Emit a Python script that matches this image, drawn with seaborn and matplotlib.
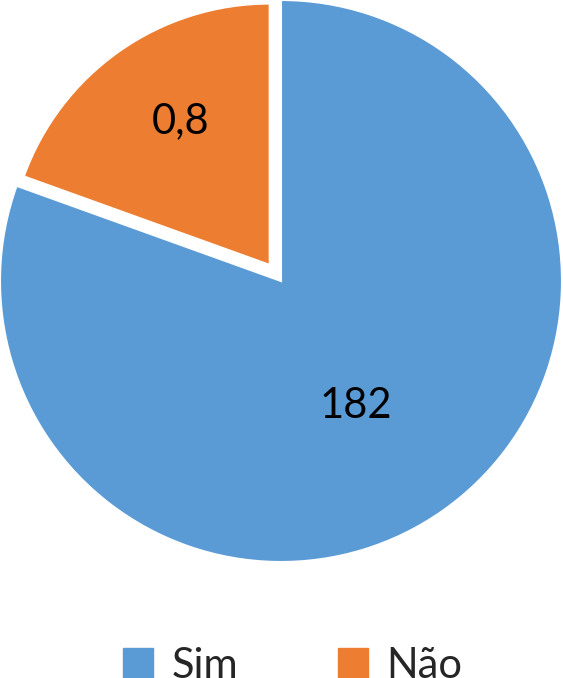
import matplotlib
matplotlib.use("Agg")
import matplotlib.pyplot as plt
import matplotlib.patches as mpatches
import seaborn as sns

# data
categories = ["Sim", "Não"]
shares = [80.5, 19.5]          # slice sizes as drawn
value_labels = ["182", "0,8"]  # numbers printed on the slices
colors = ["#5B9BD5", "#ED7D31"]

sns.set_theme(style="white")
plt.rcParams["font.family"] = ["Lato", "DejaVu Sans"]

fig = plt.figure(figsize=(5.63, 6.78), dpi=100)
ax = fig.add_axes([0.0, 116 / 678, 562 / 563, 562 / 678])

wedges, _ = ax.pie(shares, colors=colors, startangle=90, counterclock=False,
                   explode=[0, 0.07], radius=1.0,
                   wedgeprops=dict(edgecolor="white", linewidth=1.5))
# the pulled-out slice is drawn a bit smaller
wedges[1].set_radius(0.93)

# label spots inside the slices (axes data units)
label_xy = [(0.267, -0.445), (-0.356, 0.569)]
for (x, y), txt in zip(label_xy, value_labels):
    ax.text(x, y, txt, ha="center", va="center", fontsize=30, color="black")

ax.set_xlim(-1, 1)
ax.set_ylim(-1, 1)
ax.set_aspect("equal")
ax.axis("off")

handles = [mpatches.Patch(color=c, label=l) for c, l in zip(colors, categories)]
fig.legend(handles=handles, loc="center", bbox_to_anchor=(0.52, 0.018), ncol=2,
           frameon=False, fontsize=30, handlelength=0.72, handleheight=0.72,
           handletextpad=0.43, columnspacing=2.4, borderpad=0)

fig.savefig("out.png", dpi=100)
